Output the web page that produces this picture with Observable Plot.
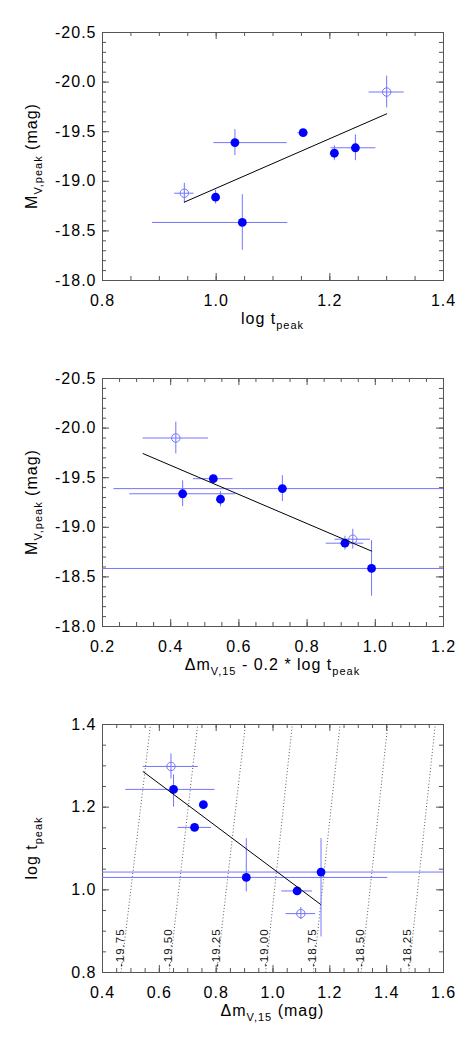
<!DOCTYPE html>
<html>
<head>
<meta charset="utf-8">
<script src="https://cdn.jsdelivr.net/npm/d3@7"></script>
<script src="https://cdn.jsdelivr.net/npm/@observablehq/plot@0.6"></script>
<style>
  html, body { margin: 0; padding: 0; background: #fff; }
  #chart { width: 474px; }
  #chart svg { display: block; }
  #chart svg text { letter-spacing: 1px; }
</style>
</head>
<body>
<div id="chart"></div>
<script>
// ---------------- data ----------------
// objects in the same order in every panel
const isOpen = [true, false, false, false, false, false, false, true];

// Panel 1 : log t_peak vs M_V,peak
const logT   = [0.944, 0.999, 1.033, 1.046, 1.153, 1.208, 1.245, 1.300];
const logTlo = [0.927, 0.994, 0.996, 0.888, 1.144, 1.202, 1.202, 1.269];
const logThi = [0.961, 1.004, 1.125, 1.126, 1.162, 1.214, 1.281, 1.331];
const Mv     = [-18.88, -18.84, -19.39, -18.585, -19.49, -19.283, -19.338, -19.90];
const MvErr  = [0.10, 0.07, 0.13, 0.28, 0.02, 0.075, 0.13, 0.16];
const fit1X  = [0.944, 1.300];
const fit1Y  = [-18.79, -19.68];

// Panel 2 : dm15 - 0.2 log t vs M_V,peak
const comb    = [0.934, 0.911, 0.7275, 0.989, 0.525, 0.546, 0.435, 0.415];
const combErr = [0.052, 0.055, 0.494, 0.82, 0.058, 0.008, 0.155, 0.096];
const fit2X   = [0.319, 0.989];
const fit2Y   = [-19.743, -18.76];

// Panel 3 : dm15 vs log t_peak
const dm15    = [1.098, 1.085, 0.906, 1.169, 0.724, 0.755, 0.650, 0.641];
const dm15lo  = [1.046, 1.031, 0.390, 0.370, 0.666, 0.750, 0.482, 0.543];
const dm15hi  = [1.150, 1.139, 1.404, 1.970, 0.784, 0.760, 0.796, 0.737];
const logT3   = [0.9425, 0.9973, 1.030, 1.043, 1.151, 1.206, 1.243, 1.2985];
const logT3lo = [0.928, 0.991, 0.995, 0.886, 1.145, 1.200, 1.200, 1.268];
const logT3hi = [0.957, 1.004, 1.124, 1.124, 1.157, 1.212, 1.278, 1.329];
const fit3X   = [0.543, 1.167];
const fit3Y   = [1.286, 0.965];

// iso-magnitude dotted lines (dm15 where they cross log t = 0.8 and 1.4)
const isoLabel = ["-19.75", "-19.50", "-19.25", "-19.00", "-18.75", "-18.50", "-18.25"];
const isoDmAt08 = [0.465, 0.635, 0.802, 0.974, 1.142, 1.310, 1.478];
const isoDmAt14 = [0.569, 0.735, 0.903, 1.068, 1.236, 1.404, 1.571];
const isoLabelLogT = 0.86;

// axes
const x1Ticks = [0.8, 1.0, 1.2, 1.4];
const x2Ticks = [0.2, 0.4, 0.6, 0.8, 1.0, 1.2];
const x3Ticks = [0.4, 0.6, 0.8, 1.0, 1.2, 1.4, 1.6];
const yMTicks = [-20.5, -20.0, -19.5, -19.0, -18.5, -18.0];
const yTTicks = [0.8, 1.0, 1.2, 1.4];

// ---------------- layout / style ----------------
const W = 474, H = 346, ML = 102, MR = 31, MT = 32, MB = 66;
const FW = W - ML - MR, FH = H - MT - MB;
const AX = "#555";
const BAR = "#7474ff";
const DOT = "#0000ff";
const FONT = "'Liberation Sans', Arial, Helvetica, sans-serif";

function minor(lo, hi, step) {
  const n = Math.round((hi - lo) / step);
  return d3.range(n + 1).map(i => +(lo + i * step).toFixed(4));
}

function frameTicks(xMaj, xMin, yMaj, yMin) {
  const L = 7, l = 4;
  const o = {stroke: AX, strokeWidth: 1};
  return [
    Plot.tickX(xMaj, {x: d => d, insetTop: FH - L, ...o}),
    Plot.tickX(xMaj, {x: d => d, insetBottom: FH - L, ...o}),
    Plot.tickX(xMin, {x: d => d, insetTop: FH - l, ...o}),
    Plot.tickX(xMin, {x: d => d, insetBottom: FH - l, ...o}),
    Plot.tickY(yMaj, {y: d => d, insetRight: FW - L, ...o}),
    Plot.tickY(yMaj, {y: d => d, insetLeft: FW - L, ...o}),
    Plot.tickY(yMin, {y: d => d, insetRight: FW - l, ...o}),
    Plot.tickY(yMin, {y: d => d, insetLeft: FW - l, ...o})
  ];
}

function tickLabels(xMaj, yMaj) {
  return [
    Plot.text(xMaj, {x: d => d, frameAnchor: "bottom", text: d => d.toFixed(1),
      dy: 20, lineAnchor: "middle", textAnchor: "middle", fontSize: 16, fill: "#000"}),
    Plot.text(yMaj, {y: d => d, frameAnchor: "left", text: d => d.toFixed(1),
      dx: -6, lineAnchor: "middle", textAnchor: "end", fontSize: 16, fill: "#000"})
  ];
}

function pointMarks(rows) {
  return [
    Plot.ruleY(rows, {y: "y", x1: "xlo", x2: "xhi", stroke: BAR, strokeWidth: 1, clip: true}),
    Plot.ruleX(rows, {x: "x", y1: "ylo", y2: "yhi", stroke: BAR, strokeWidth: 1, clip: true}),
    Plot.dot(rows.filter(d => d.open), {x: "x", y: "y", r: 4.2, stroke: BAR, strokeWidth: 1, fill: "none"}),
    Plot.dot(rows.filter(d => !d.open), {x: "x", y: "y", r: 4.4, fill: DOT, stroke: "none"})
  ];
}

function richText(sel, parts, size, sub) {
  let down = false;
  parts.forEach(([s, isSub]) => {
    const t = sel.append("tspan").text(s);
    if (isSub && !down) { t.attr("dy", 4.5).style("font-size", sub + "px"); down = true; }
    else if (isSub) { t.style("font-size", sub + "px"); }
    else if (!isSub && down) { t.attr("dy", -4.5).style("font-size", size + "px"); down = false; }
    else t.style("font-size", size + "px");
  });
}

function addTitles(svgNode, xParts, yParts) {
  const svg = d3.select(svgNode);
  const xt = svg.append("text")
    .attr("x", ML + FW / 2).attr("y", MT + FH + 44)
    .attr("text-anchor", "middle").attr("fill", "#000")
    .style("font-family", FONT).style("font-size", "16px");
  richText(xt, xParts, 16, 11);
  const yt = svg.append("text")
    .attr("transform", `translate(37,${MT + FH / 2}) rotate(-90)`)
    .attr("text-anchor", "middle").attr("fill", "#000")
    .style("font-family", FONT).style("font-size", "16px");
  richText(yt, yParts, 16, 11);
}

function makePlot(xDomain, yDomain, marks) {
  return Plot.plot({
    width: W, height: H,
    marginLeft: ML, marginRight: MR, marginTop: MT, marginBottom: MB,
    x: {domain: xDomain, axis: null},
    y: {domain: yDomain, axis: null},
    style: {fontFamily: FONT, fontSize: "16px", background: "#fff", overflow: "visible"},
    marks: [Plot.frame({stroke: AX, strokeWidth: 1}), ...marks]
  });
}

const chart = document.getElementById("chart");

// ---------------- Panel 1 ----------------
const rows1 = logT.map((v, i) => ({x: v, xlo: logTlo[i], xhi: logThi[i],
  y: Mv[i], ylo: Mv[i] - MvErr[i], yhi: Mv[i] + MvErr[i], open: isOpen[i]}));
const fit1 = fit1X.map((v, i) => ({x: v, y: fit1Y[i]}));
const p1 = makePlot([0.8, 1.4], [-18.0, -20.5], [
  ...frameTicks(x1Ticks, minor(0.8, 1.4, 0.05), yMTicks, minor(-20.5, -18.0, 0.1)),
  ...pointMarks(rows1),
  Plot.line(fit1, {x: "x", y: "y", stroke: "#000", strokeWidth: 1}),
  ...tickLabels(x1Ticks, yMTicks)
]);
addTitles(p1, [["log t", false], ["peak", true]], [["M", false], ["V,peak", true], [" (mag)", false]]);
chart.appendChild(p1);

// ---------------- Panel 2 ----------------
const rows2 = comb.map((v, i) => ({x: v, xlo: v - combErr[i], xhi: v + combErr[i],
  y: Mv[i], ylo: Mv[i] - MvErr[i], yhi: Mv[i] + MvErr[i], open: isOpen[i]}));
const fit2 = fit2X.map((v, i) => ({x: v, y: fit2Y[i]}));
const p2 = makePlot([0.2, 1.2], [-18.0, -20.5], [
  ...frameTicks(x2Ticks, minor(0.2, 1.2, 0.05), yMTicks, minor(-20.5, -18.0, 0.1)),
  ...pointMarks(rows2),
  Plot.line(fit2, {x: "x", y: "y", stroke: "#000", strokeWidth: 1}),
  ...tickLabels(x2Ticks, yMTicks)
]);
addTitles(p2, [["\u0394m", false], ["V,15", true], [" - 0.2 * log t", false], ["peak", true]],
  [["M", false], ["V,peak", true], [" (mag)", false]]);
chart.appendChild(p2);

// ---------------- Panel 3 ----------------
const rows3 = dm15.map((v, i) => ({x: v, xlo: dm15lo[i], xhi: dm15hi[i],
  y: logT3[i], ylo: logT3lo[i], yhi: logT3hi[i], open: isOpen[i]}));
const fit3 = fit3X.map((v, i) => ({x: v, y: fit3Y[i]}));
const y3 = [0.8, 1.4];
const iso = isoLabel.map((s, i) => ({
  label: s,
  x1: isoDmAt08[i], y1: y3[0], x2: isoDmAt14[i], y2: y3[1],
  xl: isoDmAt08[i] + (isoDmAt14[i] - isoDmAt08[i]) * (isoLabelLogT - y3[0]) / (y3[1] - y3[0]),
  yl: isoLabelLogT
}));
const p3 = makePlot([0.4, 1.6], y3, [
  Plot.link(iso, {x1: "x1", y1: "y1", x2: "x2", y2: "y2", stroke: "#333", strokeWidth: 0.8,
    strokeDasharray: "1,2.2", clip: true}),
  Plot.text(iso, {x: "xl", y: "yl", text: "label", rotate: -90, lineAnchor: "bottom",
    textAnchor: "middle", fontSize: 11.5, fill: "#111"}),
  ...frameTicks(x3Ticks, minor(0.4, 1.6, 0.05), yTTicks, minor(0.8, 1.4, 0.05)),
  ...pointMarks(rows3),
  Plot.line(fit3, {x: "x", y: "y", stroke: "#000", strokeWidth: 1}),
  ...tickLabels(x3Ticks, yTTicks)
]);
addTitles(p3, [["\u0394m", false], ["V,15", true], [" (mag)", false]],
  [["log t", false], ["peak", true]]);
chart.appendChild(p3);
</script>
</body>
</html>
